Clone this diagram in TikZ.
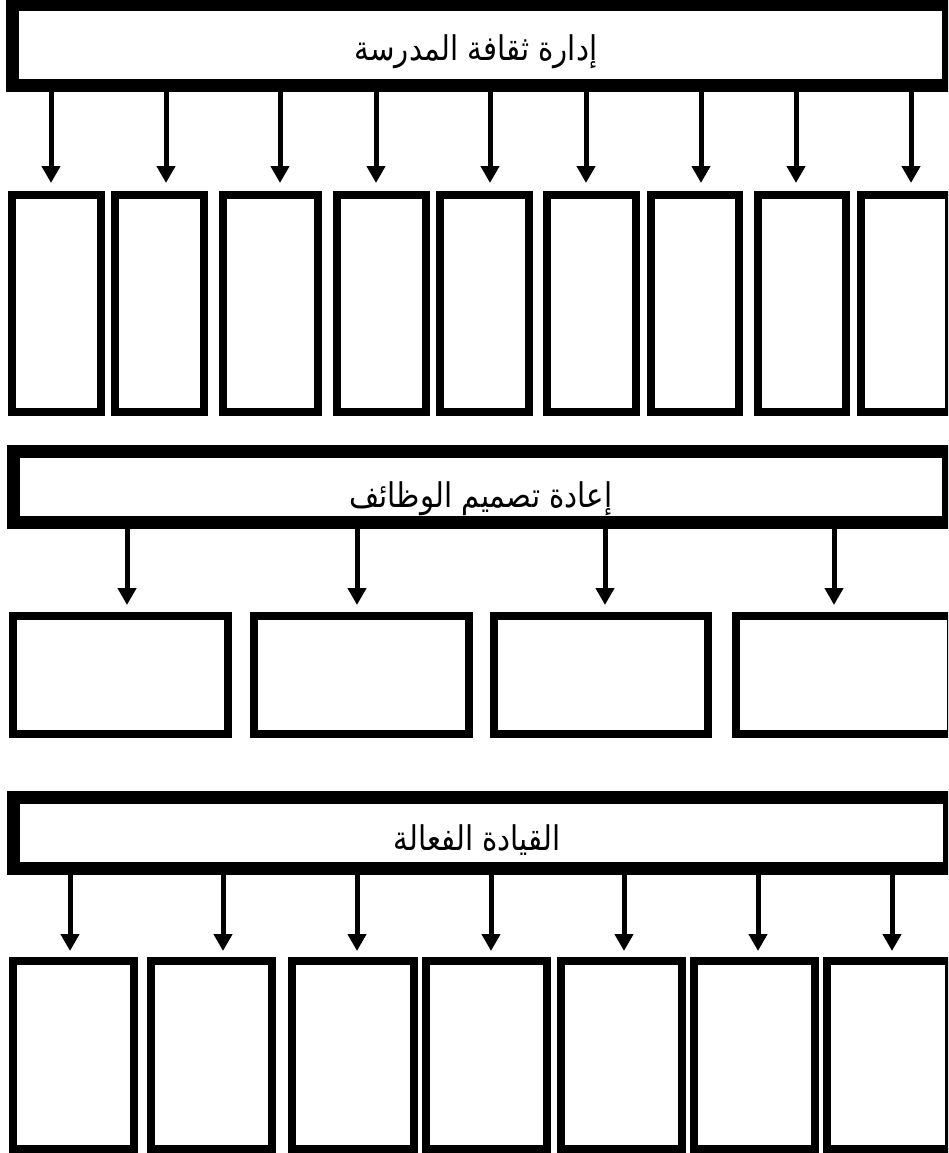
\documentclass[tikz,border=0pt]{standalone}
\usepackage{fontspec}
\newfontfamily\arabicfont[Script=Arabic,FakeStretch=0.86]{DejaVu Sans}
\TeXXeTstate=1
\usetikzlibrary{arrows.meta}
\begin{document}
\begin{tikzpicture}[x=1pt,y=-1pt,
  header/.style={draw, line width=13pt, inner sep=0pt, outer sep=0pt, minimum width=936pt},
  cell/.style={draw, line width=8pt, inner sep=0pt, outer sep=0pt},
  arr/.style={line width=5pt, -{Triangle[length=17pt,width=18pt]}},
  htext/.style={font=\arabicfont\fontsize{34}{40}\selectfont, anchor=base, inner sep=0pt}]
\useasboundingbox (0,0) rectangle (948,1153);
\clip (0,0) rectangle (948,1153);
\fill[white] (0,0) rectangle (948,1153);

% ---------- section 1 ----------
\node[header, minimum height=81pt] (h1) at (480.5,45) {};
\node[htext] (t1) at (476,61) {\beginR إدارة ثقافة المدرسة\endR};
\foreach \i/\cx/\w in {1/56.5/89, 2/159.5/89, 3/270.5/95, 4/381.5/89, 5/484.5/89, 6/591.5/89, 7/695/88, 8/802/88, 9/905/88}{
  \node[cell, minimum width=\w pt, minimum height=217pt] (a\i) at (\cx,303.5) {};
}
\foreach \i/\ax in {1/51, 2/166, 3/280, 4/376, 5/490, 6/586, 7/701, 8/796, 9/911}{
  \coordinate (pa\i) at (\ax,183);
  \draw[arr] (h1.south -| pa\i) -- (pa\i);
}

% ---------- section 2 ----------
\node[header, minimum width=935pt, minimum height=71pt] (h2) at (481,487) {};
\node[htext] (t2) at (481,507) {\beginR إعادة تصميم الوظائف\endR};
\foreach \i/\cx/\w in {1/120.5/215, 2/361/215, 3/601/214, 4/843.5/215}{
  \node[cell, minimum width=\w pt, minimum height=118pt] (b\i) at (\cx,675) {};
}
\foreach \i/\ax in {1/127, 2/357, 3/605, 4/834}{
  \coordinate (pb\i) at (\ax,605);
  \draw[arr] (h2.south -| pb\i) -- (pb\i);
}

% ---------- section 3 ----------
\node[header, minimum height=71pt] (h3) at (481,832.5) {};
\node[htext] (t3) at (477,850) {\beginR القيادة الفعالة\endR};
\foreach \i/\cx/\w in {1/73.5/121, 2/211.5/121, 3/353/122, 4/486.5/121, 5/621.5/121, 6/754.5/121, 7/888/122}{
  \node[cell, minimum width=\w pt, minimum height=188pt] (c\i) at (\cx,1055) {};
}
\foreach \i/\ax in {1/70, 2/223, 3/357, 4/491, 5/624, 6/758, 7/892}{
  \coordinate (pc\i) at (\ax,951);
  \draw[arr] (h3.south -| pc\i) -- (pc\i);
}
\end{tikzpicture}
\end{document}
